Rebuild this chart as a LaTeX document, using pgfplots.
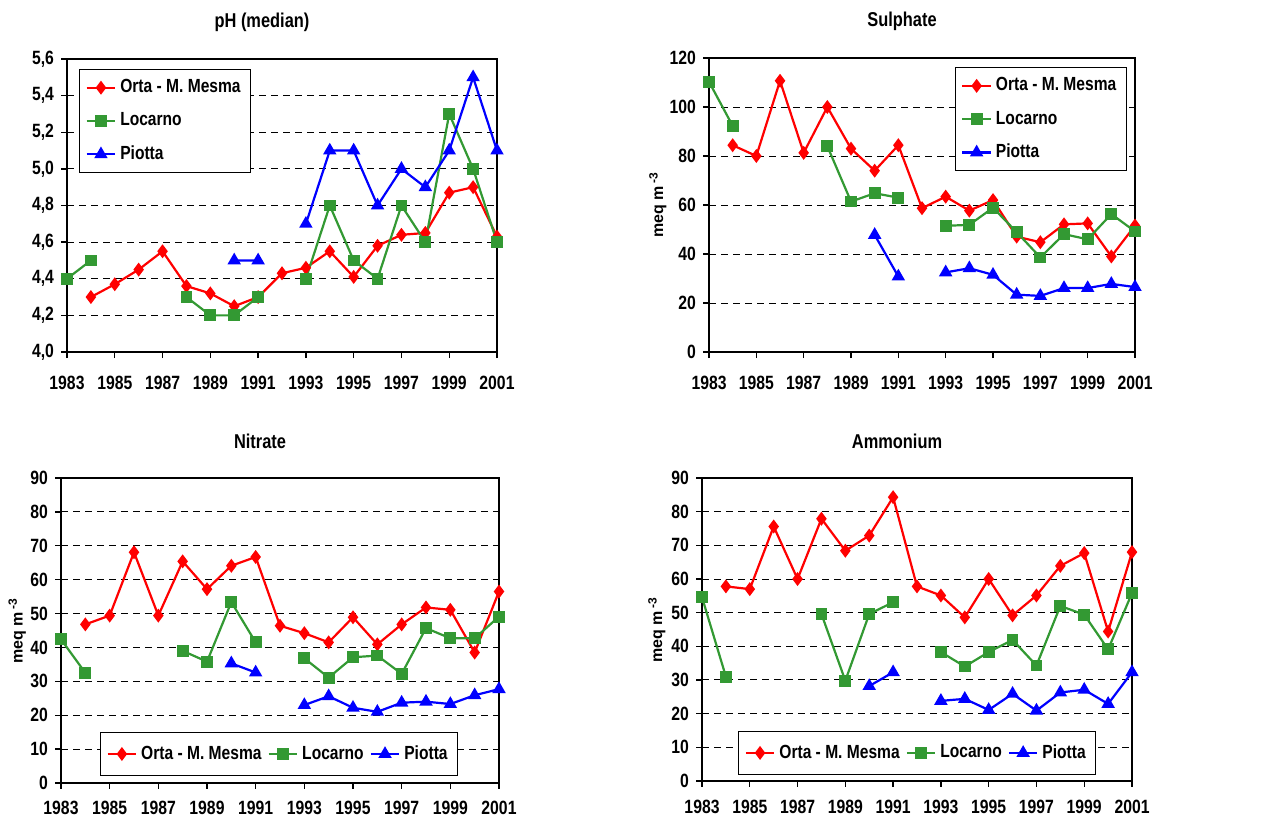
\documentclass[border=0pt]{standalone}
\usepackage{fontspec}
\setmainfont{Liberation Sans}[FakeStretch=0.82]
\newfontfamily\plainfont{Liberation Sans}
\usepackage{pgfplots}
\pgfplotsset{compat=1.18}
\usepackage{pgfplotstable}

\definecolor{ortared}{RGB}{255,0,0}
\definecolor{locgreen}{RGB}{51,153,51}
\definecolor{piotblue}{RGB}{0,0,255}

% year, Orta - M. Mesma, Locarno, Piotta
\pgfplotstableread{
year orta loc pio
1983 nan  4.40 nan
1984 4.30 4.50 nan
1985 4.37 nan  nan
1986 4.45 nan  nan
1987 4.55 nan  nan
1988 4.36 4.30 nan
1989 4.32 4.20 nan
1990 4.25 4.20 4.50
1991 4.30 4.30 4.50
1992 4.43 nan  nan
1993 4.46 4.40 4.70
1994 4.55 4.80 5.10
1995 4.41 4.50 5.10
1996 4.58 4.40 4.80
1997 4.64 4.80 5.00
1998 4.65 4.60 4.90
1999 4.87 5.30 5.10
2000 4.90 5.00 5.50
2001 4.63 4.60 5.10
}\phdata

\pgfplotstableread{
year orta  loc   pio
1983 nan   110.3 nan
1984 84.4  92.3  nan
1985 80.0  nan   nan
1986 110.7 nan   nan
1987 81.3  nan   nan
1988 100.0 84.0  nan
1989 83.0  61.4  nan
1990 74.0  64.8  47.8
1991 84.4  63.0  30.8
1992 58.7  nan   nan
1993 63.4  51.5  32.5
1994 57.7  51.9  34.2
1995 62.0  58.9  31.5
1996 47.1  48.9  23.4
1997 44.8  38.6  22.9
1998 52.1  48.1  26.1
1999 52.5  46.0  26.1
2000 39.0  56.3  27.8
2001 51.6  49.2  26.5
}\sulphdata

\pgfplotstableread{
year orta loc  pio
1983 nan  42.4 nan
1984 46.8 32.5 nan
1985 49.4 nan  nan
1986 68.1 nan  nan
1987 49.4 nan  nan
1988 65.4 39.0 nan
1989 57.2 35.8 nan
1990 64.1 53.4 35.3
1991 66.7 41.5 32.6
1992 46.4 nan  nan
1993 44.2 36.8 23.0
1994 41.5 31.1 25.6
1995 48.9 37.1 22.2
1996 40.9 37.6 21.0
1997 46.8 32.2 23.7
1998 51.8 45.7 24.0
1999 51.1 42.7 23.3
2000 38.5 42.7 25.9
2001 56.5 49.1 27.7
}\nitrdata

\pgfplotstableread{
year orta loc  pio
1983 nan  54.6 nan
1984 57.8 31.0 nan
1985 57.0 nan  nan
1986 75.6 nan  nan
1987 60.0 nan  nan
1988 77.9 49.6 nan
1989 68.4 29.8 nan
1990 72.9 49.6 28.2
1991 84.3 53.1 32.3
1992 57.8 nan  nan
1993 55.1 38.3 23.8
1994 48.6 34.0 24.4
1995 60.0 38.3 21.1
1996 49.2 41.9 25.9
1997 55.1 34.3 20.9
1998 63.9 52.0 26.3
1999 67.7 49.4 27.1
2000 44.4 39.1 22.9
2001 68.0 55.8 32.3
}\ammdata

\pgfplotsset{
  panel/.style={
    scale only axis,
    anchor=north west,
    xmin=1983, xmax=2001,
    xtick={1983,1985,...,2001},
    tick align=outside,
    tick pos=left,
    major tick length=3pt,
    ymajorgrids,
    grid style={black, line width=0.5pt, dash pattern=on 3.5pt off 2.5pt},
    axis line style={black, line width=0.7pt},
    tick style={black, line width=0.7pt},
    /pgf/number format/assume math mode=true,
    /pgf/number format/1000 sep={},
    ticklabel style={font=\fontsize{9.6}{11}\selectfont\bfseries},
    every axis title shift=0pt,
    title style={font=\fontsize{10}{12}\selectfont\bfseries,
      at={(0.5,1)}, anchor=center, yshift=18.5pt, xshift=-10pt},
    ylabel style={font=\plainfont\fontsize{8}{10}\selectfont\bfseries,
      at={(axis description cs:-0.11,0.5)}, anchor=center},
    legend style={font=\fontsize{9.5}{11}\selectfont\bfseries,
      draw=black, line width=0.6pt, fill=white, inner xsep=3pt, inner ysep=3pt},
    legend cell align=left,
    legend image code/.code={
      \draw[mark repeat=2,mark phase=2] plot coordinates {(0cm,0cm)(0.25cm,0cm)(0.5cm,0cm)};},
    unbounded coords=jump,
  },
  vleg/.style={legend style={row sep=4.5pt}},
  hleg/.style={legend columns=3,
    legend style={inner ysep=4.5pt, /tikz/every even column/.append style={column sep=1pt}}},
  orta/.style={color=ortared, line width=1.1pt, mark=diamond*, mark size=2.6pt, mark options={solid}},
  loc/.style={color=locgreen, line width=1.1pt, mark=square*, mark size=2.4pt, mark options={solid}},
  pio/.style={color=piotblue, line width=1.1pt, mark=triangle*, mark size=2.8pt, mark options={solid}},
}

\begin{document}
\begin{tikzpicture}
\useasboundingbox (0,0) rectangle (641.5pt,-409.5pt);

% pH
\begin{axis}[panel, vleg,
  at={(33.5pt,-29.5pt)}, width=215pt, height=146.5pt,
  title={pH (median)},
  ymin=4.0, ymax=5.6, ytick={4.0,4.2,...,5.61},
  yticklabel style={/pgf/number format/.cd, fixed, fixed zerofill, precision=1, use comma},
  xticklabel style={yshift=-5.5pt},
  legend style={at={(0.028,0.966)}, anchor=north west},
]
\addplot[orta] table[x=year, y=orta] {\phdata};
\addplot[loc] table[x=year, y=loc] {\phdata};
\addplot[pio] table[x=year, y=pio] {\phdata};
\legend{Orta - M. Mesma, Locarno, Piotta}
\end{axis}

% Sulphate
\begin{axis}[panel, vleg,
  at={(354.5pt,-29pt)}, width=213pt, height=147pt,
  title={Sulphate},
  ylabel={meq m\,\textsuperscript{-3}},
  ymin=0, ymax=120, ytick={0,20,...,120},
  xticklabel style={yshift=-5.5pt},
  ylabel style={at={(axis description cs:-0.12,0.5)}},
  legend style={at={(0.981,0.969)}, anchor=north east},
]
\addplot[orta] table[x=year, y=orta] {\sulphdata};
\addplot[loc] table[x=year, y=loc] {\sulphdata};
\addplot[pio] table[x=year, y=pio] {\sulphdata};
\legend{Orta - M. Mesma, Locarno, Piotta}
\end{axis}

% Nitrate
\begin{axis}[panel, hleg,
  at={(30.5pt,-239pt)}, width=219pt, height=152.5pt,
  title={Nitrate},
  ylabel={meq m\,\textsuperscript{-3}},
  ymin=0, ymax=90, ytick={0,10,...,90},
  xticklabel style={yshift=-2.5pt},
  ylabel style={at={(axis description cs:-0.10,0.5)}},
  legend style={at={(0.089,0.023)}, anchor=south west},
]
\addplot[orta] table[x=year, y=orta] {\nitrdata};
\addplot[loc] table[x=year, y=loc] {\nitrdata};
\addplot[pio] table[x=year, y=pio] {\nitrdata};
\legend{Orta - M. Mesma, Locarno, Piotta}
\end{axis}

% Ammonium
\begin{axis}[panel, hleg,
  at={(351pt,-239pt)}, width=215pt, height=151.5pt,
  title={Ammonium},
  ylabel={meq m\,\textsuperscript{-3}},
  ymin=0, ymax=90, ytick={0,10,...,90},
  xticklabel style={yshift=-3pt},
  ylabel style={at={(axis description cs:-0.105,0.5)}},
  legend style={at={(0.084,0.02)}, anchor=south west},
]
\addplot[orta] table[x=year, y=orta] {\ammdata};
\addplot[loc] table[x=year, y=loc] {\ammdata};
\addplot[pio] table[x=year, y=pio] {\ammdata};
\legend{Orta - M. Mesma, Locarno, Piotta}
\end{axis}
\end{tikzpicture}
\end{document}
